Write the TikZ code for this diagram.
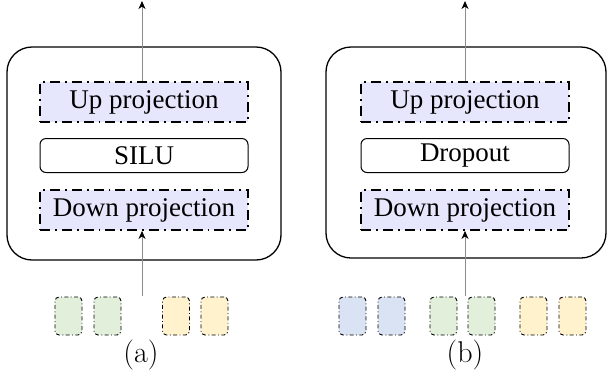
\documentclass[tikz,border=0pt]{standalone}
\usepackage{fontspec}
\newfontfamily\boxfont{Liberation Serif}
\usetikzlibrary{arrows.meta}
\definecolor{proj}{RGB}{230,230,252}
\definecolor{tokgreen}{RGB}{226,239,218}
\definecolor{tokyellow}{RGB}{255,242,204}
\definecolor{tokblue}{RGB}{218,227,243}
\tikzset{
  outerbox/.style={draw=black, line width=0.65pt, rounded corners=12.5pt},
  projbox/.style={draw=black, fill=proj, line width=0.9pt,
    dash pattern=on 5pt off 2.5pt on 0.9pt off 2.5pt, minimum width=104pt, minimum height=20pt,
    inner sep=0pt, font=\boxfont\fontsize{13.5}{15}\selectfont},
  actbox/.style={draw=black, fill=white, line width=0.5pt, rounded corners=3pt,
    minimum width=104pt, minimum height=17pt, inner sep=0pt, font=\boxfont\fontsize{13.5}{15}\selectfont},
  tok/.style={draw=black, line width=0.45pt, rounded corners=2pt,
    dash pattern=on 2pt off 1.2pt on 0.45pt off 1.2pt, minimum width=13.5pt, minimum height=19pt, inner sep=0pt},
  flow/.style={draw=black!45, line width=0.5pt, -{Stealth[black, length=4pt, width=3.5pt, inset=1.2pt]}},
  caption/.style={font=\fontsize{15}{17}\selectfont, inner sep=0pt},
}
\begin{document}
\begin{tikzpicture}[x=0.5pt, y=-0.5pt]
\useasboundingbox (0,0) rectangle (607,388);
% panel (a)
\node[outerbox, minimum width=137pt, minimum height=106.5pt] (oa) at (144,153.5) {};
\node[projbox] (upa) at (144,102) {Up projection};
\node[actbox] (acta) at (144,155.5) {SILU};
\node[projbox] (downa) at (144,210) {Down projection};
\node[tok, fill=tokgreen] (a1) at (68.5,316) {};
\node[tok, fill=tokgreen] (a2) at (107.5,316) {};
\node[tok, fill=tokyellow] (a3) at (176,316) {};
\node[tok, fill=tokyellow] (a4) at (214.5,316) {};
\coordinate (ina) at (142,296);
\coordinate (outa) at (142,1);
\draw[flow] (ina) -- (ina |- downa.south);
\draw[flow] (outa |- upa.north) -- (outa);
\node[caption] (capa) at (141,355) {(a)};
% panel (b)
\node[outerbox, minimum width=140pt, minimum height=105.5pt] (ob) at (466,152.5) {};
\node[projbox] (upb) at (465,102) {Up projection};
\node[actbox] (actb) at (465,155.5) {Dropout};
\node[projbox] (downb) at (465,210) {Down projection};
\node[tok, fill=tokblue] (b1) at (352.5,316) {};
\node[tok, fill=tokblue] (b2) at (391.5,316) {};
\node[tok, fill=tokgreen] (b3) at (443.5,316) {};
\node[tok, fill=tokgreen] (b4) at (481.5,316) {};
\node[tok, fill=tokyellow] (b5) at (533.5,316) {};
\node[tok, fill=tokyellow] (b6) at (572.5,316) {};
\coordinate (inb) at (465,296);
\coordinate (outb) at (465,1);
\draw[flow] (inb) -- (inb |- downb.south);
\draw[flow] (outb |- upb.north) -- (outb);
\node[caption] (capb) at (465,355) {(b)};
\end{tikzpicture}
\end{document}
